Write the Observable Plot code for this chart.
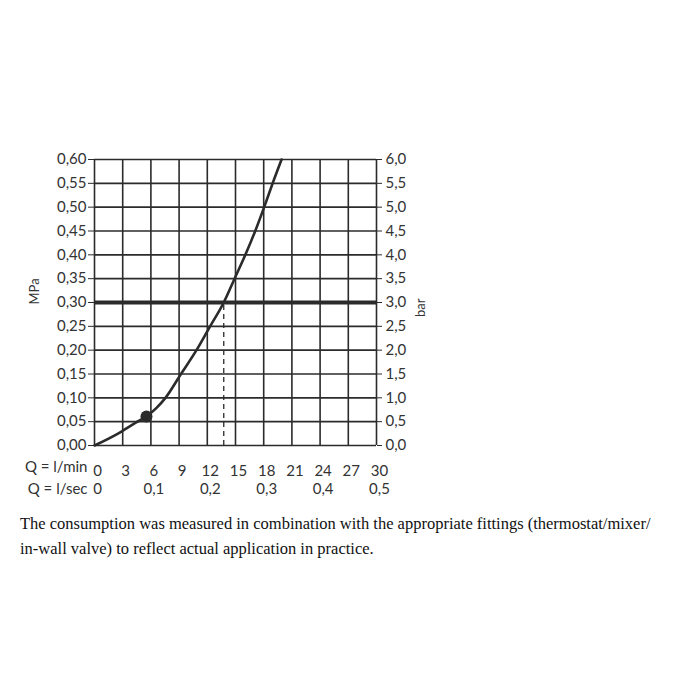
<!DOCTYPE html>
<html><head><meta charset="utf-8">
<script src="https://cdn.jsdelivr.net/npm/d3@7"></script>
<script src="https://cdn.jsdelivr.net/npm/@observablehq/plot@0.6"></script>
<style>
body{margin:0;background:#fff;}
#cap{font-family:"Liberation Serif","Times New Roman",serif;font-size:16.5px;color:#111;margin:6px 0 0 20px;line-height:25px;width:680px;}
</style></head><body>
<div id="chart"></div>
<div id="cap">The consumption was measured in combination with the appropriate fittings (thermostat/mixer/<br>in-wall valve) to reflect actual application in practice.</div>
<script>
const flowLmin = [0, 2.5, 4.3, 5.53, 6.6, 7.55, 9.2, 10.85, 12.3, 13.75, 14.9, 16.05, 17.1, 18.05, 18.95, 19.9];
const pressureMPa = [0, 0.025, 0.047, 0.061, 0.079, 0.10, 0.15, 0.20, 0.25, 0.30, 0.35, 0.40, 0.45, 0.50, 0.55, 0.60];
const xTicks = [0, 3, 6, 9, 12, 15, 18, 21, 24, 27, 30];
const yTicks = [0, 0.05, 0.10, 0.15, 0.20, 0.25, 0.30, 0.35, 0.40, 0.45, 0.50, 0.55, 0.60];
const lsecTicks = [0, 6, 12, 18, 24, 30];
const lsecLabels = ["0", "0,1", "0,2", "0,3", "0,4", "0,5"];
const markerPoint = {x: 5.53, y: 0.061};
const refPressure = 0.30;
const refFlow = 13.75;

const curve = flowLmin.map((x, i) => ({x, y: pressureMPa[i]}));
const comma = (v, d) => v.toFixed(d).replace(".", ",");
const font = "Lato, 'DejaVu Sans', sans-serif";
const ink = "#2b2b2b";

const chart = Plot.plot({
  width: 700, height: 505,
  marginLeft: 94, marginRight: 324, marginTop: 159, marginBottom: 60,
  style: {fontFamily: font, fontSize: "15px", color: "#333", background: "#fff"},
  x: {domain: [0, 30]},
  y: {domain: [0, 0.6]},
  marks: [
    Plot.ruleX(xTicks, {stroke: ink, strokeWidth: 1.6}),
    Plot.ruleY(yTicks, {stroke: ink, strokeWidth: 1.6}),
    Plot.ruleY([refPressure], {stroke: ink, strokeWidth: 4}),
    Plot.ruleX([refFlow], {y1: 0, y2: refPressure, stroke: ink, strokeWidth: 1.3, strokeDasharray: "5,4"}),
    Plot.line(curve, {x: "x", y: "y", curve: "monotone-x", stroke: ink, strokeWidth: 2.6}),
    Plot.dot([markerPoint], {x: "x", y: "y", r: 6, fill: ink}),
    Plot.axisY(yTicks, {anchor: "left", tickSize: 6, tickPadding: 2, tickFormat: d => comma(d, 2), label: null, stroke: ink, fill: "#333"}),
    Plot.axisY(yTicks, {anchor: "right", tickSize: 5, tickPadding: 4, tickFormat: d => comma(d * 10, 1), label: null, stroke: ink, fill: "#333"}),
    Plot.axisX(xTicks, {anchor: "bottom", tickSize: 0, tickPadding: 20, tickFormat: d => String(d), label: null, fill: "#333", dx: 3}),
    Plot.text(lsecTicks, {x: d => d, frameAnchor: "bottom", dy: 48, text: (d, i) => lsecLabels[i], fill: "#333", dx: 3}),
    Plot.text(["Q = l/min"], {x: 0, frameAnchor: "bottom", dy: 26, dx: -7, textAnchor: "end", fill: "#333"}),
    Plot.text(["Q = l/sec"], {x: 0, frameAnchor: "bottom", dy: 48, dx: -7, textAnchor: "end", fill: "#333"}),
    Plot.text(["MPa"], {frameAnchor: "left", dx: -60, dy: 2, rotate: -90, fill: "#333", fontSize: 13}),
    Plot.text(["bar"], {frameAnchor: "right", dx: 44, dy: -4, rotate: -90, fill: "#333", fontSize: 13})
  ]
});
document.getElementById("chart").appendChild(chart);
</script>
</body></html>
